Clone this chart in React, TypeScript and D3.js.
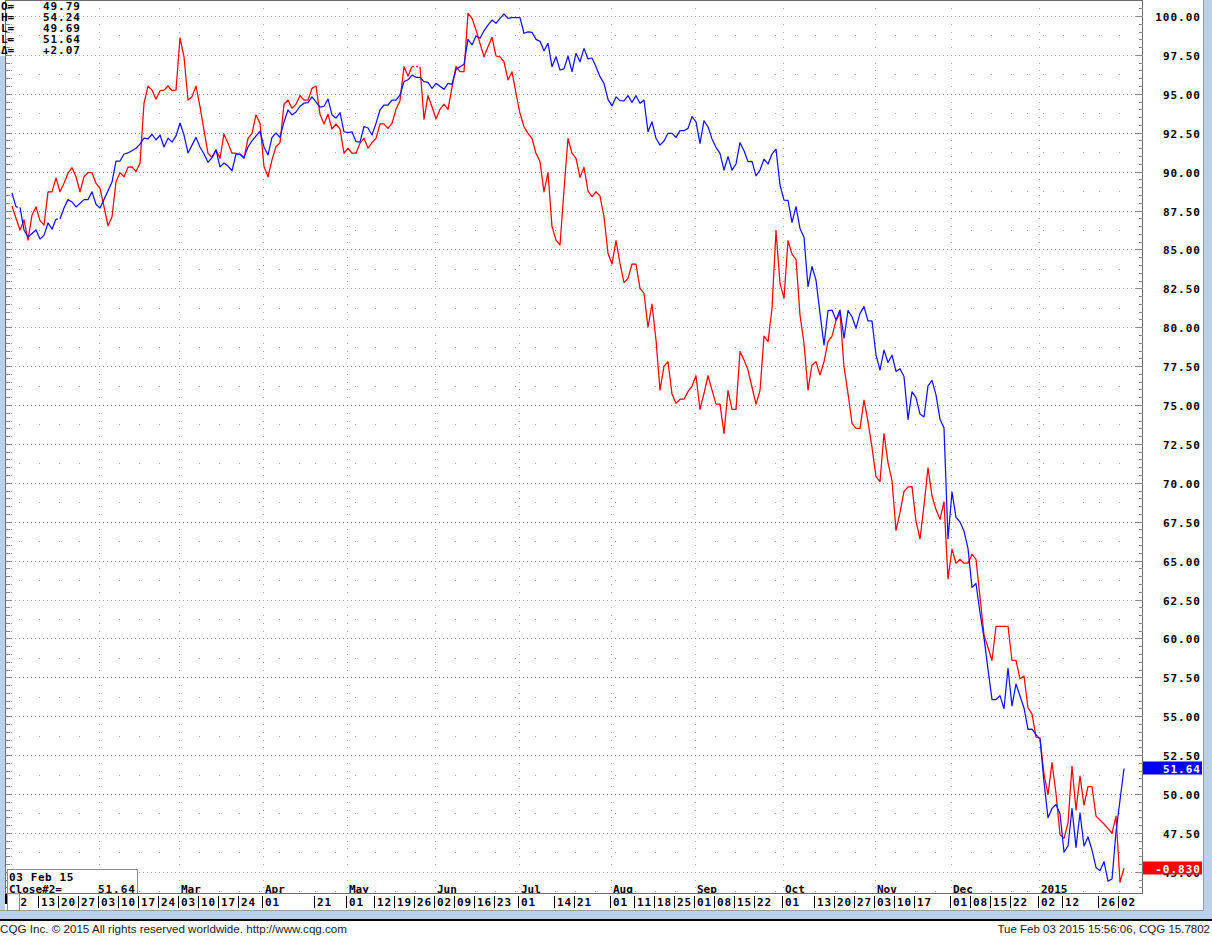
import React, { useEffect, useRef } from 'react';
import * as d3 from 'd3';

// trading calendar (weekdays minus the sessions the chart skips)
const firstDay = '2014-01-02';
const lastDay = '2015-02-03';
const holidays = ['2014-04-18', '2014-11-27', '2014-12-25', '2015-01-01', '2015-01-19'];

const tickDates = [
  '2014-01-02', '2014-01-13', '2014-01-20', '2014-01-27', '2014-02-03', '2014-02-10', '2014-02-17',
  '2014-02-24', '2014-03-03', '2014-03-10', '2014-03-17', '2014-03-24', '2014-04-01', '2014-04-21',
  '2014-05-01', '2014-05-12', '2014-05-19', '2014-05-26', '2014-06-02', '2014-06-09', '2014-06-16',
  '2014-06-23', '2014-07-01', '2014-07-14', '2014-07-21', '2014-08-01', '2014-08-11', '2014-08-18',
  '2014-08-25', '2014-09-01', '2014-09-08', '2014-09-15', '2014-09-22', '2014-10-01', '2014-10-13',
  '2014-10-20', '2014-10-27', '2014-11-03', '2014-11-10', '2014-11-17', '2014-12-01', '2014-12-08',
  '2014-12-15', '2014-12-22', '2015-01-02', '2015-01-12', '2015-01-26', '2015-02-02',
];

// month starts: all get a grid line, only those with a name get a label
const monthStarts = ['2014-01-02', '2014-02-03'];
const monthLabels: [string, string][] = [
  ['2014-03-03', 'Mar'], ['2014-04-01', 'Apr'], ['2014-05-01', 'May'], ['2014-06-02', 'Jun'],
  ['2014-07-01', 'Jul'], ['2014-08-01', 'Aug'], ['2014-09-01', 'Sep'], ['2014-10-01', 'Oct'],
  ['2014-11-03', 'Nov'], ['2014-12-01', 'Dec'], ['2015-01-02', '2015'],
];

const infoRows: [string, string][] = [
  ['O=', '49.79'], ['H=', '54.24'], ['L=', '49.69'], ['L=', '51.64'], ['Δ=', '+2.07'],
];

const cursorDate = '03 Feb 15';
const cursorLabel = 'Close#2=';
const blueLast = '51.64';
const redTag = '-0.830';

// [trading day index, close]
const redSeries: [number, number][] = [
  [0, 87.79], [1, 87.0], [2, 86.25], [3, 86.9], [4, 85.6], [5, 87.2], [6, 87.73], [7, 86.85], [8, 86.57],
  [9, 88.7], [10, 88.7], [11, 89.6], [12, 88.7], [13, 89.25], [14, 89.9], [15, 90.25], [16, 89.67],
  [17, 88.7], [18, 89.67], [19, 89.93], [20, 89.93], [21, 89.25], [22, 88.93], [23, 87.75], [24, 86.52],
  [25, 87.1], [26, 89.35], [27, 89.93], [28, 89.67], [29, 90.28], [30, 90.3], [31, 90.0], [32, 90.53],
  [33, 94.39], [34, 95.5], [35, 95.24], [36, 94.65], [37, 95.2], [38, 95.24], [39, 95.5], [40, 95.2],
  [41, 95.24], [42, 98.6], [43, 97.38], [44, 94.6], [45, 94.81], [46, 95.5], [47, 94.17], [48, 92.67],
  [49, 91.18], [50, 90.92], [51, 91.39], [52, 90.85], [53, 92.42], [54, 91.82], [55, 91.18], [56, 91.18],
  [57, 91.1], [58, 90.85], [59, 92.14], [60, 92.46], [61, 93.64], [62, 93.1], [63, 90.32], [64, 89.67],
  [65, 90.75], [66, 91.6], [67, 91.86], [68, 94.33], [69, 94.6], [70, 94.07], [71, 94.34], [72, 94.88],
  [73, 94.6], [74, 94.6], [75, 95.35], [76, 95.5], [77, 93.68], [78, 93.06], [79, 93.68], [80, 92.74],
  [81, 93.06], [82, 92.74], [83, 91.18], [84, 91.5], [85, 91.18], [86, 91.18], [87, 91.82], [88, 92.14],
  [89, 91.5], [90, 91.86], [91, 92.14], [92, 93.06], [93, 93.06], [94, 92.78], [95, 93.1], [96, 94.0],
  [97, 94.56], [98, 96.74], [99, 96.14], [100, 96.74], [102, 96.74], [103, 93.36], [104, 94.88],
  [105, 94.17], [106, 93.38], [107, 94.0], [108, 94.33], [109, 94.0], [110, 95.42], [111, 96.74],
  [112, 96.42], [113, 96.42], [114, 100.17], [115, 99.85], [116, 99.1], [117, 98.24], [118, 97.38],
  [119, 98.03], [120, 98.63], [121, 97.43], [122, 97.38], [123, 97.06], [124, 95.89], [125, 96.42],
  [126, 95.03], [127, 93.75], [128, 92.88], [129, 92.46], [130, 92.14], [131, 91.18], [132, 90.64],
  [133, 88.7], [134, 89.93], [135, 86.46], [136, 85.6], [137, 85.28], [138, 88.82], [139, 92.14],
  [140, 91.18], [141, 90.85], [142, 89.63], [143, 90.28], [144, 88.75], [145, 88.39], [146, 88.7],
  [147, 88.43], [148, 87.1], [149, 84.75], [150, 84.06], [151, 85.56], [152, 84.1], [153, 82.86],
  [154, 83.14], [155, 84.06], [156, 84.06], [157, 82.5], [158, 82.18], [159, 80.0], [160, 81.49],
  [161, 79.18], [162, 75.96], [163, 77.5], [164, 77.78], [165, 75.71], [166, 75.11], [167, 75.37],
  [168, 75.37], [169, 75.86], [170, 76.22], [171, 76.88], [172, 74.72], [173, 75.75], [174, 76.88],
  [175, 75.96], [176, 75.06], [177, 75.06], [178, 73.18], [179, 75.92], [180, 74.72], [181, 74.72],
  [182, 78.43], [183, 77.9], [184, 77.25], [185, 76.14], [186, 75.06], [187, 75.92], [188, 79.43],
  [189, 79.07], [190, 81.2], [191, 86.2], [192, 82.82], [193, 81.86], [194, 85.56], [195, 84.7],
  [196, 84.36], [197, 80.78], [198, 78.96], [199, 75.96], [200, 77.57], [201, 77.78], [202, 76.93],
  [203, 77.78], [204, 79.07], [205, 79.43], [206, 80.42], [207, 80.93], [208, 77.46], [209, 75.75],
  [210, 73.82], [211, 73.5], [212, 73.5], [213, 75.32], [214, 73.93], [215, 72.28], [216, 70.4],
  [217, 70.08], [218, 73.16], [219, 71.28], [220, 70.15], [221, 66.95], [222, 68.08], [223, 69.45],
  [224, 69.73], [225, 69.75], [226, 67.53], [227, 66.4], [228, 68.53], [229, 70.96], [230, 69.15],
  [231, 68.28], [232, 67.65], [233, 68.78], [234, 63.83], [235, 65.73], [236, 64.83], [237, 65.08],
  [238, 64.83], [239, 64.83], [240, 65.4], [241, 65.08], [242, 62.65], [243, 60.23], [244, 59.4],
  [245, 58.58], [246, 60.78], [247, 60.78], [248, 60.78], [249, 60.78], [250, 58.58], [251, 58.58],
  [252, 57.4], [253, 57.58], [254, 55.53], [255, 55.15], [256, 53.65], [257, 53.6], [258, 51.28],
  [259, 49.97], [260, 52.02], [261, 50.03], [262, 47.4], [263, 47.15], [264, 48.15], [265, 51.78],
  [266, 48.97], [267, 51.15], [268, 49.28], [269, 50.48], [270, 50.48], [271, 48.58], [272, 48.32],
  [273, 48.07], [274, 47.78], [275, 47.47], [276, 48.58], [277, 44.33], [278, 45.23],
];

const blueSeries: [number, number][] = [
  [0, 88.63], [1, 87.73], [2, 87.7], [3, 86.25], [4, 85.8], [6, 86.25], [7, 85.67], [8, 85.9], [9, 86.7],
  [10, 86.3], [11, 86.95], [12, 86.95], [13, 87.66], [14, 88.2], [15, 88.05], [16, 87.73], [18, 88.2],
  [19, 88.2], [20, 88.7], [21, 87.9], [22, 87.66], [23, 88.2], [25, 89.33], [26, 90.68], [27, 90.68],
  [28, 91.13], [29, 91.2], [31, 91.5], [32, 91.77], [33, 92.15], [34, 92.1], [35, 92.4], [36, 92.03],
  [37, 92.35], [38, 91.58], [39, 92.15], [40, 91.9], [41, 92.29], [42, 93.12], [43, 92.35], [44, 91.2],
  [45, 91.7], [46, 92.2], [47, 91.58], [48, 91.13], [49, 90.6], [50, 90.9], [51, 91.4], [52, 90.3],
  [53, 90.55], [54, 90.36], [55, 90.04], [56, 91.13], [57, 91.13], [58, 90.9], [59, 91.58], [60, 91.97],
  [62, 92.6], [63, 91.58], [64, 91.07], [65, 92.2], [66, 92.48], [67, 92.2], [68, 93.19], [69, 93.96],
  [70, 93.64], [71, 93.83], [72, 94.2], [73, 94.4], [74, 94.43], [75, 94.8], [77, 94.15], [78, 94.2],
  [79, 94.67], [80, 93.64], [81, 93.44], [82, 93.79], [83, 92.56], [84, 92.5], [85, 92.56], [86, 91.92],
  [87, 91.9], [88, 92.9], [89, 92.8], [90, 92.35], [91, 93.1], [92, 93.96], [93, 94.28], [94, 94.28],
  [95, 94.6], [96, 94.6], [97, 94.92], [98, 95.78], [99, 95.9], [100, 96.2], [101, 96.06], [102, 96.06],
  [103, 95.78], [104, 95.74], [105, 95.35], [106, 95.67], [108, 95.29], [109, 95.67], [110, 95.6],
  [111, 96.57], [113, 96.9], [114, 98.5], [115, 98.14], [116, 98.71], [117, 98.57], [118, 99.05],
  [119, 99.42], [120, 99.74], [121, 99.53], [122, 99.85], [123, 100.13], [124, 99.85], [125, 99.9],
  [127, 99.9], [128, 98.89], [129, 98.98], [130, 98.95], [131, 98.5], [132, 98.37], [133, 97.77],
  [134, 98.24], [135, 96.74], [136, 97.38], [137, 96.53], [138, 96.6], [139, 97.43], [140, 96.42],
  [141, 97.6], [142, 97.06], [143, 97.92], [144, 97.24], [145, 97.3], [146, 96.74], [147, 96.1],
  [148, 95.67], [149, 94.64], [150, 94.22], [151, 94.8], [152, 94.56], [153, 94.55], [154, 94.88],
  [155, 94.45], [156, 94.88], [157, 94.39], [158, 94.6], [159, 92.56], [160, 93.2], [161, 92.14],
  [162, 91.7], [163, 91.97], [164, 92.46], [165, 92.46], [166, 92.2], [167, 92.63], [168, 92.63],
  [169, 92.78], [170, 93.53], [171, 93.2], [172, 91.82], [173, 93.27], [174, 92.88], [175, 92.1],
  [176, 91.56], [177, 91.17], [178, 90.1], [179, 90.96], [180, 90.1], [181, 90.49], [182, 91.86],
  [183, 91.34], [184, 90.64], [185, 90.66], [186, 89.72], [187, 90.1], [188, 90.8], [189, 90.49],
  [190, 91.13], [191, 91.45], [192, 89.14], [193, 88.17], [194, 88.15], [195, 86.74], [196, 87.75],
  [197, 86.35], [198, 85.78], [199, 82.6], [200, 83.9], [201, 83.03], [202, 80.89], [203, 78.86],
  [204, 81.06], [205, 81.1], [206, 80.46], [207, 81.1], [208, 79.29], [209, 81.06], [210, 80.67],
  [211, 79.93], [212, 80.89], [213, 81.32], [214, 80.4], [215, 80.4], [216, 78.21], [217, 77.25],
  [218, 78.53], [219, 77.73], [220, 78.2], [221, 77.16], [222, 77.33], [223, 76.83], [224, 74.08],
  [225, 75.84], [226, 75.48], [227, 74.42], [228, 74.23], [229, 76.23], [230, 76.58], [231, 75.65],
  [232, 74.08], [233, 73.53], [234, 66.4], [235, 69.4], [236, 67.78], [237, 67.48], [238, 66.9],
  [239, 65.78], [240, 63.28], [241, 63.53], [242, 61.65], [243, 60.03], [244, 58.03], [245, 56.07],
  [246, 56.07], [247, 56.32], [248, 55.48], [249, 58.08], [250, 55.66], [251, 57.07], [252, 56.3],
  [253, 55.53], [254, 54.15], [255, 54.17], [256, 53.82], [257, 53.53], [258, 50.77], [259, 48.48],
  [260, 49.07], [261, 49.33], [262, 48.73], [263, 46.27], [264, 46.66], [265, 49.07], [266, 46.57],
  [267, 48.78], [268, 46.66], [269, 47.24], [270, 46.4], [271, 45.28], [272, 45.07], [273, 45.65],
  [274, 44.4], [275, 44.54], [276, 47.56], [277, 49.6], [278, 51.64],
];

// stretches with no prints, drawn dashed
const blueGaps: [number, number][] = [[1, 2], [11, 12]];
const redGaps: [number, number][] = [[100, 102]];

const FONT = '"DejaVu Sans Mono", monospace';
const PANEL = '#b9d1ea';
const GRID = '#a8a8a8';

const fmt = d3.utcFormat('%Y-%m-%d');
const parse = d3.utcParse('%Y-%m-%d');

const tradingDays = d3
  .utcDays(parse(firstDay)!, d3.utcDay.offset(parse(lastDay)!, 1))
  .filter((d) => d.getUTCDay() % 6 !== 0 && !holidays.includes(fmt(d)));
const dayKeys = tradingDays.map(fmt);
const dayOf = (s: string) => dayKeys.indexOf(s);

type Pt = [number, number];

const pieces = (series: Pt[], gaps: [number, number][]) => {
  const out: { dashed: boolean; pts: Pt[] }[] = [];
  for (let i = 0; i < series.length - 1; i++) {
    const a = series[i];
    const b = series[i + 1];
    const dashed = gaps.some(([s, e]) => a[0] >= s && b[0] <= e);
    const last = out[out.length - 1];
    if (last && last.dashed === dashed) last.pts.push(b);
    else out.push({ dashed, pts: [a, b] });
  }
  return out;
};

const draw = (el: SVGSVGElement) => {
  const width = 1212;
  const height = 937;
  const frame = { left: 5.5, right: 1142.5, top: 0.5, bottom: 893.5 };

  const x = d3.scaleLinear().domain([0, dayKeys.length - 1]).range([12, 1124]);
  const y = d3.scaleLinear().domain([45, 100]).range([871.8, 16]);
  const py = (v: number) => Math.round(y(v)) + 0.5;

  const svg = d3.select(el);
  svg.selectAll('*').remove();
  svg.attr('width', width).attr('height', height).attr('viewBox', `0 0 ${width} ${height}`);

  svg.append('rect').attr('width', width).attr('height', height).attr('fill', '#fff');

  // side panels
  svg.append('rect').attr('x', 0).attr('y', 56).attr('width', 5).attr('height', 863).attr('fill', PANEL);
  svg.append('rect').attr('x', 1204).attr('y', 0).attr('width', 8).attr('height', 919).attr('fill', PANEL);
  svg.append('rect').attr('x', 0).attr('y', 911).attr('width', width).attr('height', 8).attr('fill', PANEL);
  svg.append('line').attr('x1', 1203.5).attr('x2', 1203.5).attr('y1', 0).attr('y2', 911)
    .attr('stroke', '#9a9a9a');
  svg.append('line').attr('x1', 0).attr('x2', 1204).attr('y1', 910.5).attr('y2', 910.5)
    .attr('stroke', '#9a9a9a');
  svg.append('rect').attr('x', 0).attr('y', 919).attr('width', width).attr('height', 2).attr('fill', '#000');

  // grid
  const majors = d3.range(45, 100.001, 2.5);
  const halves = d3.range(44, 101.001, 0.5).filter((v) => (v * 2) % 5 !== 0 && y(v) > 1 && y(v) < 892);
  const mids = d3.range(43.75, 100, 2.5).filter((v) => y(v) < 892);
  const monthDays = [...monthStarts, ...monthLabels.map(([d]) => d)].map(dayOf);
  const weekDays = tradingDays
    .map((d, i) => ({ d, i }))
    .filter(({ d, i }) => i > 0 && +d3.utcMonday.floor(d) !== +d3.utcMonday.floor(tradingDays[i - 1]))
    .map(({ i }) => i)
    .filter((i) => !monthDays.includes(i));

  const grid = svg.append('g').attr('shape-rendering', 'crispEdges');
  grid.selectAll('line.h').data(majors).join('line')
    .attr('x1', frame.left + 1).attr('x2', frame.right)
    .attr('y1', py).attr('y2', py)
    .attr('stroke', GRID).attr('stroke-dasharray', '1 3');
  grid.selectAll('rect.m')
    .data(monthDays.flatMap((d) => halves.map((v) => [d, v] as Pt)))
    .join('rect')
    .attr('x', (d) => Math.round(x(d[0])) - 1).attr('y', (d) => Math.round(y(d[1])))
    .attr('width', 1).attr('height', 1).attr('fill', GRID);
  grid.selectAll('rect.w')
    .data(weekDays.flatMap((d) => mids.map((v) => [d, v] as Pt)))
    .join('rect')
    .attr('x', (d) => Math.round(x(d[0])) - 1).attr('y', (d) => Math.round(y(d[1])))
    .attr('width', 1).attr('height', 1).attr('fill', GRID);

  // series
  const clip = svg.append('clipPath').attr('id', 'plot');
  clip.append('rect').attr('x', frame.left).attr('y', frame.top)
    .attr('width', frame.right - frame.left).attr('height', frame.bottom - frame.top);
  const line = d3.line<Pt>().x((d) => x(d[0])).y((d) => y(d[1]));
  const plot = svg.append('g').attr('clip-path', 'url(#plot)').attr('fill', 'none')
    .attr('stroke-width', 1.25).attr('stroke-linejoin', 'round');
  const series: [Pt[], [number, number][], string][] = [
    [redSeries, redGaps, '#ff0000'],
    [blueSeries, blueGaps, '#1010ff'],
  ];
  series.forEach(([data, gaps, color]) => {
    plot.append('g').selectAll('path').data(pieces(data, gaps)).join('path')
      .attr('d', (p) => line(p.pts))
      .attr('stroke', color)
      .attr('stroke-dasharray', (p) => (p.dashed ? '2 2' : null));
  });

  // month labels sit above the date row
  svg.append('g').attr('font-family', FONT).attr('font-size', 11).attr('font-weight', 'bold')
    .selectAll('text').data(monthLabels).join('text')
    .attr('x', (d) => x(dayOf(d[0])) + 1).attr('y', 893)
    .text((d) => d[1]);

  // frame
  svg.append('rect').attr('x', frame.left).attr('y', frame.top)
    .attr('width', frame.right - frame.left).attr('height', frame.bottom - frame.top)
    .attr('fill', 'none').attr('stroke', '#6e6e6e');

  // price ticks on both edges
  const ticks = svg.append('g').attr('stroke', '#8a8a8a').attr('shape-rendering', 'crispEdges');
  const allTicks = d3.range(44, 101.001, 0.5).filter((v) => y(v) > 1 && y(v) < 893);
  ticks.selectAll('line.r').data(allTicks).join('line')
    .attr('x1', (v) => ((v * 2) % 5 === 0 ? 1136 : 1139)).attr('x2', frame.right)
    .attr('y1', py).attr('y2', py);
  ticks.selectAll('line.l').data(allTicks).join('line')
    .attr('x1', frame.left).attr('x2', (v) => ((v * 2) % 5 === 0 ? 12 : 10))
    .attr('y1', py).attr('y2', py);

  // price labels
  svg.append('g').attr('font-family', FONT).attr('font-size', 11).attr('font-weight', 'bold')
    .attr('letter-spacing', 1).attr('text-anchor', 'end')
    .selectAll('text').data(majors).join('text')
    .attr('x', 1201).attr('y', (v) => py(v) + 4)
    .text((v) => v.toFixed(2));

  // last value tags
  const tag = (v: number, label: string, color: string) => {
    const cy = py(v);
    svg.append('rect').attr('x', 1143).attr('y', cy - 7).attr('width', 59).attr('height', 13)
      .attr('fill', color);
    svg.append('text').attr('x', 1201).attr('y', cy + 4).attr('text-anchor', 'end')
      .attr('font-family', FONT).attr('font-size', 11).attr('font-weight', 'bold')
      .attr('letter-spacing', 1).attr('fill', '#fff').text(label);
  };
  tag(blueSeries[blueSeries.length - 1][1], blueLast, '#0000ff');
  tag(redSeries[redSeries.length - 1][1], redTag, '#ff0000');

  // OHLC readout
  const info = svg.append('g').attr('font-family', FONT).attr('font-size', 11).attr('font-weight', 'bold');
  infoRows.forEach(([k, v], i) => {
    info.append('text').attr('x', 1).attr('y', 9.5 + i * 11).text(k);
    info.append('text').attr('x', 81).attr('y', 9.5 + i * 11).attr('text-anchor', 'end')
      .attr('letter-spacing', 1).text(v);
  });

  // cursor box
  svg.append('rect').attr('x', 7.5).attr('y', 869.5).attr('width', 130).attr('height', 24)
    .attr('fill', '#fff').attr('stroke', '#8a8a8a');
  const cur = svg.append('g').attr('font-family', FONT).attr('font-size', 11).attr('font-weight', 'bold');
  cur.append('text').attr('x', 9).attr('y', 881).attr('letter-spacing', 0.6).text(cursorDate);
  cur.append('text').attr('x', 9).attr('y', 892.5).text(cursorLabel);
  cur.append('text').attr('x', 136).attr('y', 892.5).attr('text-anchor', 'end')
    .attr('letter-spacing', 1).text(blueLast);

  // date row
  svg.append('rect').attr('x', 6).attr('y', 894).attr('width', 1197).attr('height', 16).attr('fill', '#fff');
  svg.append('line').attr('x1', 19).attr('x2', frame.right).attr('y1', 893.5).attr('y2', 893.5)
    .attr('stroke', '#6e6e6e');
  const row = svg.append('g');
  row.selectAll('line').data(tickDates).join('line')
    .attr('x1', (d) => Math.round(x(dayOf(d))) - 1.5).attr('x2', (d) => Math.round(x(dayOf(d))) - 1.5)
    .attr('y1', 896).attr('y2', 908).attr('stroke', '#000');
  row.selectAll('text').data(tickDates).join('text')
    .attr('x', (d) => Math.round(x(dayOf(d))) + 1).attr('y', 906)
    .attr('font-family', FONT).attr('font-size', 11).attr('font-weight', 'bold').attr('letter-spacing', 0.8)
    .text((d) => d.slice(8));
  svg.append('rect').attr('x', 7.5).attr('y', 893.5).attr('width', 12).attr('height', 17)
    .attr('fill', '#fff').attr('stroke', '#8a8a8a');
  svg.append('rect').attr('x', 5).attr('y', 894).attr('width', 2).attr('height', 10).attr('fill', '#000');

  // footer
  svg.append('text').attr('x', 0).attr('y', 933).attr('font-family', '"Liberation Sans", Arial, sans-serif')
    .attr('font-size', 11.5).attr('fill', '#222').attr('textLength', 347).attr('lengthAdjust', 'spacingAndGlyphs')
    .text('CQG Inc. © 2015 All rights reserved worldwide. http://www.cqg.com');
  svg.append('text').attr('x', 1210).attr('y', 933).attr('text-anchor', 'end')
    .attr('font-family', '"Liberation Sans", Arial, sans-serif')
    .attr('font-size', 11.5).attr('fill', '#222')
    .text('Tue Feb 03 2015 15:56:06, CQG 15.7802');
};

const App = () => {
  const ref = useRef<SVGSVGElement>(null);
  useEffect(() => {
    if (ref.current) draw(ref.current);
  }, []);
  return (
    <div style={{ position: 'absolute', left: 0, top: 0 }}>
      <svg ref={ref} style={{ display: 'block' }} />
    </div>
  );
};

export default App;
